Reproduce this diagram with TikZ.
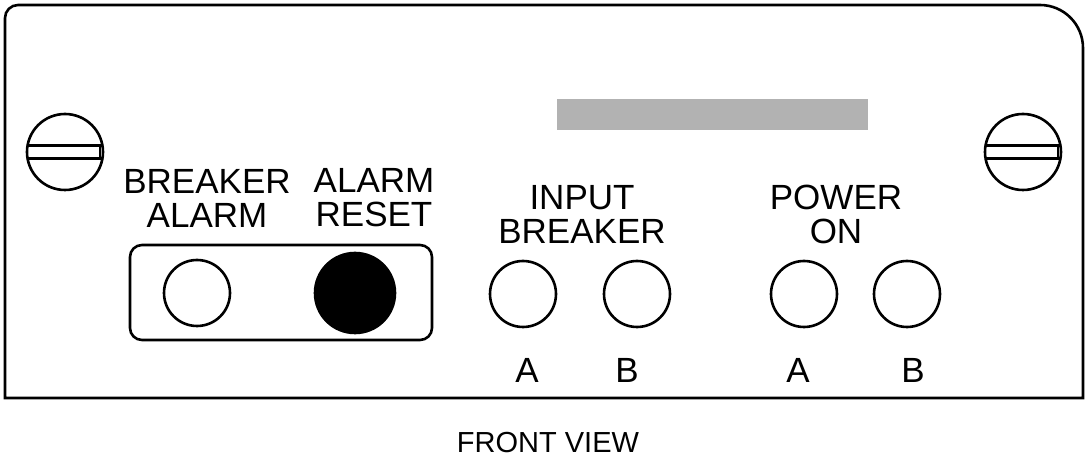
\documentclass[tikz,border=0pt]{standalone}
\usepackage{fontspec}
\setmainfont{Liberation Sans}
\begin{document}
\begin{tikzpicture}[x=1pt,y=-1pt,line width=2.6pt,
  lbl/.style={font=\fontsize{35}{34}\selectfont,align=center,inner sep=0},
  lamp/.style={draw,circle,minimum size=66pt,inner sep=0}]
\useasboundingbox (0,0) rectangle (1088,462);
\draw (5,398) [rounded corners=13] -- (5,5) [rounded corners=43] -- (1083,5) [sharp corners] -- (1083,398) -- cycle;
\foreach \x/\n in {65/s1,1023/s2}{
  \node[draw,circle,minimum size=76pt,inner sep=0] (\n) at (\x,152) {};
  \draw (\x-37,145.5) -- (\x+37,145.5) (\x-37,158.5) -- (\x+37,158.5);
  \draw (\x+35,145.5) -- (\x+35,158.5);
}
\fill[gray!60] (557,99) rectangle (868,130);
\draw[rounded corners=12] (130,245) rectangle (432,340);
\node[lamp] (ba) at (197,293) {};
\node[draw,circle,fill=black,minimum size=80pt,inner sep=0] (ar) at (355,293) {};
\node[lamp] (ia) at (523,294) {};
\node[lamp] (ib) at (637,294) {};
\node[lamp] (pa) at (804,294) {};
\node[lamp] (pb) at (907,294) {};
\node[lbl] (t1) at (207,198) {BREAKER\\ALARM};
\node[lbl] (t2) at (374,198) {ALARM\\RESET};
\node[lbl] (t3) at (582,214) {INPUT\\BREAKER};
\node[lbl] (t4) at (836,214) {POWER\\ON};
\node[lbl] (a1) at (527,370) {A};
\node[lbl] (b1) at (627,370) {B};
\node[lbl] (a2) at (798,370) {A};
\node[lbl] (b2) at (913,370) {B};
\node[lbl,font=\fontsize{29}{29}\selectfont] (fv) at (548,443) {FRONT VIEW};
\end{tikzpicture}
\end{document}
